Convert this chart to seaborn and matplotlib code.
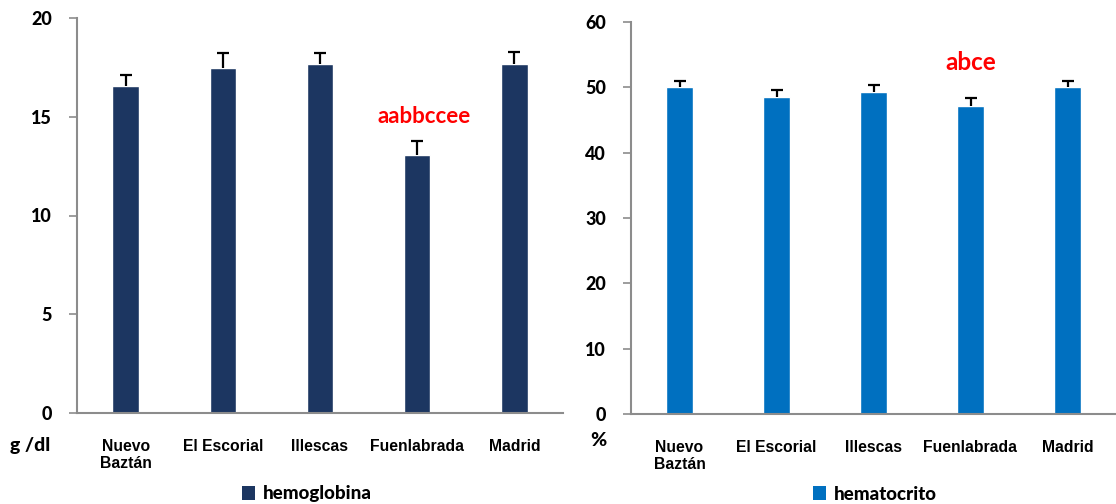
import matplotlib
matplotlib.use("Agg")
import matplotlib.pyplot as plt
from matplotlib.patches import Patch, Rectangle
import numpy as np
import pandas as pd
import seaborn as sns

# Locations and measured means / standard errors
localidades = ["Nuevo\nBaztán", "El Escorial", "Illescas", "Fuenlabrada", "Madrid"]
hemoglobina = [16.55, 17.48, 17.67, 13.05, 17.67]
hemoglobina_err = [0.58, 0.76, 0.57, 0.71, 0.61]
hematocrito = [50.0, 48.5, 49.35, 47.1, 50.0]
hematocrito_err = [1.0, 1.1, 0.95, 1.3, 1.0]

etiqueta_hb = "aabbccee"
etiqueta_hto = "abce"

sns.set_theme(style="white")
plt.rcParams["font.family"] = ["Lato", "DejaVu Sans"]
plt.rcParams["text.color"] = "black"

COLOR_HB = "#1C3661"
COLOR_HTO = "#0070C0"
AXIS_GRAY = "#8C8C8C"
MAIN_FONT = ["Lato", "DejaVu Sans"]
CAT_FONT = ["Liberation Sans", "DejaVu Sans"]
HEAVY = 900

fig = plt.figure(figsize=(11.16, 5.04), dpi=100)
ax1 = fig.add_axes([77 / 1116, 91 / 504, 486 / 1116, 395 / 504])
ax2 = fig.add_axes([631 / 1116, 90 / 504, 485 / 1116, 392 / 504])


def panel(ax, values, errors, color, ymax, ystep, unit, unit_xy):
    df = pd.DataFrame({"localidad": localidades, "valor": values})
    sns.barplot(data=df, x="localidad", y="valor", color=color, width=0.27,
                saturation=1, errorbar=None, ax=ax, zorder=2)
    x = np.arange(len(values))
    # upper-only error bars with a single cap
    _, caps, _ = ax.errorbar(x, values, yerr=[np.zeros(len(values)), errors],
                             fmt="none", ecolor="black", elinewidth=1.6,
                             capsize=4.5, capthick=1.6, zorder=3)
    for cap in caps:
        if np.allclose(cap.get_ydata(), values):
            cap.set_visible(False)
    ax.set_xlim(-0.5, len(values) - 0.5)
    ax.set_ylim(0, ymax)
    yt = np.arange(0, ymax + 0.1, ystep)
    ax.set_yticks(yt)
    ax.set_yticklabels([f"{int(v)}" for v in yt])
    for lab in ax.get_yticklabels():
        lab.set_fontfamily(MAIN_FONT)
        lab.set_fontweight(HEAVY)
        lab.set_fontsize(13)
        lab.set_color("black")
    ax.set_xticks(x)
    ax.set_xticklabels(localidades, linespacing=1.15)
    for lab in ax.get_xticklabels():
        lab.set_fontfamily(CAT_FONT)
        lab.set_fontweight(700)
        lab.set_fontsize(11.3)
        lab.set_color("black")
    ax.set_xticks(np.arange(-0.5, len(values)), minor=True)
    ax.tick_params(axis="x", which="major", length=0, pad=19)
    ax.tick_params(axis="x", which="minor", length=6, width=1.2, color=AXIS_GRAY)
    ax.tick_params(axis="y", length=6, width=1.2, color=AXIS_GRAY, pad=12, left=True)
    for s in ("top", "right"):
        ax.spines[s].set_visible(False)
    for s in ("left", "bottom"):
        ax.spines[s].set_color(AXIS_GRAY)
        ax.spines[s].set_linewidth(1.5)
    ax.set_xlabel("")
    ax.set_ylabel("")
    fig.text(unit_xy[0] / 1116, 1 - unit_xy[1] / 504, unit, fontsize=14,
             fontweight=HEAVY, family=MAIN_FONT, color="black",
             ha="left", va="center")


panel(ax1, hemoglobina, hemoglobina_err, COLOR_HB, 20, 5, "g /dl", (10, 446))
panel(ax2, hematocrito, hematocrito_err, COLOR_HTO, 60, 10, "%", (590, 441))

# Significance letters above Fuenlabrada
t1 = ax1.text(3.07, 14.70, etiqueta_hb, color="red", fontsize=16, family=MAIN_FONT,
              fontweight=700, ha="center", va="baseline", zorder=4)
clip = Rectangle((2.0, 14.86), 2.0, 3.0, transform=ax1.transData,
                 facecolor="none", edgecolor="none")
ax1.add_patch(clip)
t1.set_clip_path(clip)
ax2.text(3.0, 52.6, etiqueta_hto, color="red", fontsize=17.5, family=MAIN_FONT,
         fontweight=700, ha="center", va="baseline", zorder=4)

# Legends under each panel
for ax, color, name, cx in ((ax1, COLOR_HB, "hemoglobina", 307),
                            (ax2, COLOR_HTO, "hematocrito", 875)):
    leg = ax.legend(handles=[Patch(facecolor=color, edgecolor="none", label=name)],
                    loc="center", bbox_to_anchor=(cx / 1116, 1 - 494 / 504),
                    bbox_transform=fig.transFigure, frameon=False,
                    prop={"family": MAIN_FONT, "weight": HEAVY, "size": 13.5},
                    labelcolor="black",
                    handlelength=0.7, handleheight=0.7, handletextpad=0.4,
                    borderpad=0, borderaxespad=0)
    leg.set_clip_on(False)

fig.savefig("out.png", dpi=100)
